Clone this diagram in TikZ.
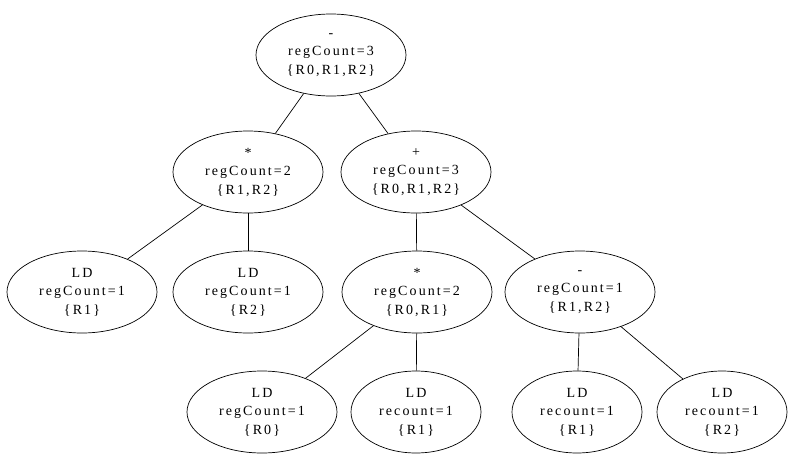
\documentclass[tikz,border=0pt]{standalone}
\usepackage{fontspec}
\setmainfont{Liberation Serif}
\newfontfamily\gvfont[LetterSpace=15]{Liberation Serif}
\usetikzlibrary{shapes.geometric}
\tikzset{
  treenode/.style={ellipse, draw, line width=0.7pt, inner sep=0pt,
    minimum width=150pt, minimum height=82pt, align=center,
    font=\gvfont\fontsize{14}{18.5}\selectfont},
  narrownode/.style={treenode, minimum width=130pt},
  treeedge/.style={draw, line width=0.7pt}
}
\begin{document}
\begin{tikzpicture}[x=1pt, y=-1pt]
  \useasboundingbox (0,0) rectangle (790,458);
  % rank 0
  \node[treenode] (root) at (331,55) {-\\regCount=3\\\{R0,R1,R2\}};
  % rank 1
  \node[treenode] (mulA) at (248,172) {*\\regCount=2\\\{R1,R2\}};
  \node[treenode] (plus) at (416,172) {+\\regCount=3\\\{R0,R1,R2\}};
  % rank 2
  \node[treenode] (ldA) at (82,292) {LD\\regCount=1\\\{R1\}};
  \node[treenode] (ldB) at (248,292) {LD\\regCount=1\\\{R2\}};
  \node[treenode] (mulB) at (417,292) {*\\regCount=2\\\{R0,R1\}};
  \node[treenode] (minus) at (580,292) {-\\regCount=1\\\{R1,R2\}};
  % rank 3
  \node[treenode] (ldC) at (262,412) {LD\\regCount=1\\\{R0\}};
  \node[narrownode] (ldD) at (416,412) {LD\\recount=1\\\{R1\}};
  \node[narrownode] (ldE) at (577,412) {LD\\recount=1\\\{R1\}};
  \node[narrownode] (ldF) at (722,412) {LD\\recount=1\\\{R2\}};
  % edges
  \path[treeedge] (root) -- (mulA);
  \path[treeedge] (root) -- (plus);
  \path[treeedge] (mulA) -- (ldA);
  \path[treeedge] (mulA) -- (ldB);
  \path[treeedge] (plus) -- (mulB);
  \path[treeedge] (plus) -- (minus);
  \path[treeedge] (mulB) -- (ldC);
  \path[treeedge] (mulB) -- (ldD);
  \path[treeedge] (minus) -- (ldE);
  \path[treeedge] (minus) -- (ldF);
\end{tikzpicture}
\end{document}
